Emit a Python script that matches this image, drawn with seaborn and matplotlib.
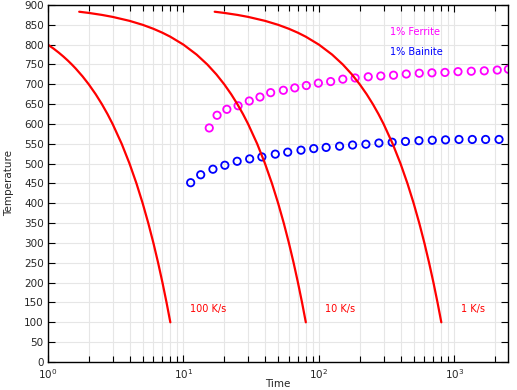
import numpy as np
import pandas as pd
import matplotlib
matplotlib.use("Agg")
import matplotlib.pyplot as plt
import seaborn as sns
from matplotlib.ticker import LogLocator, MultipleLocator, NullFormatter

# Cooling curves (time, temperature)
t_100 = [1, 1.1, 1.2, 1.3, 1.4, 1.5, 1.6, 1.8, 2, 2.25, 2.5, 2.75, 3, 3.5, 4, 4.5, 5, 5.5, 6, 6.5, 7, 7.5, 8]
T_100 = [800, 790, 780, 770, 760, 750, 740, 720, 700, 675, 650, 625, 600, 550, 500, 450, 400, 350, 300, 250, 200, 150, 100]

t_10 = [1.7, 2, 2.5, 3, 4, 5, 6, 7, 8, 10, 12.5, 15, 17.5, 20, 22.5, 25, 27.5, 30, 35, 40, 45, 50, 55, 60, 65, 70, 75, 80]
T_10 = [883, 880, 875, 870, 860, 850, 840, 830, 820, 800, 775, 750, 725, 700, 675, 650, 625, 600, 550, 500, 450, 400, 350, 300, 250, 200, 150, 100]

t_1 = [17, 20, 25, 30, 40, 50, 60, 70, 80, 100, 125, 150, 175, 200, 225, 250, 275, 300, 350, 400, 450, 500, 550, 600, 650, 700, 750, 800]
T_1 = [883, 880, 875, 870, 860, 850, 840, 830, 820, 800, 775, 750, 725, 700, 675, 650, 625, 600, 550, 500, 450, 400, 350, 300, 250, 200, 150, 100]

# 1% Ferrite start
t_ferrite = [15.5, 17.7, 20.9, 25.3, 30.6, 36.7, 44.0, 54.6, 66.3, 80.7, 99, 122, 150, 185, 231,
             286, 355, 441, 550, 682, 851, 1062, 1331, 1660, 2070, 2500]
T_ferrite = [590, 622, 637, 646, 658, 668, 679, 685, 691, 697, 703, 707, 713, 716, 719,
             721, 723, 726, 728, 729, 730, 732, 733, 734, 736, 738]

# 1% Bainite start
t_bainite = [11.3, 13.4, 16.5, 20.2, 24.9, 30.8, 37.9, 47.6, 58.8, 73.7, 91.5, 113, 142, 177, 222,
             277, 347, 435, 547, 686, 859, 1080, 1354, 1698, 2133]
T_bainite = [452, 472, 486, 496, 506, 512, 517, 524, 529, 534, 538, 541, 544, 547, 549,
             552, 554, 556, 558, 559, 560, 561, 561, 561, 561]

sns.set_style("ticks")
plt.rcParams['font.family'] = ['DejaVu Sans']

fig = plt.figure(figsize=(5.17, 3.90), dpi=100)
ax = fig.add_axes([0.0928, 0.0718, 0.8905, 0.9154])

for tt, TT in [(t_100, T_100), (t_10, T_10), (t_1, T_1)]:
    sns.lineplot(x=tt, y=TT, ax=ax, color="red", linewidth=1.6, sort=False, estimator=None)

sns.scatterplot(x=t_ferrite, y=T_ferrite, ax=ax, marker="o", s=28, facecolor="none",
                edgecolor="#ff00ff", linewidth=1.3)
sns.scatterplot(x=t_bainite, y=T_bainite, ax=ax, marker="o", s=28, facecolor="none",
                edgecolor="#0000ff", linewidth=1.3)

ax.set_xscale("log")
ax.set_xlim(1, 2500)
ax.set_ylim(0, 900)
ax.yaxis.set_major_locator(MultipleLocator(50))
ax.xaxis.set_major_locator(LogLocator(base=10, numticks=10))
ax.xaxis.set_minor_locator(LogLocator(base=10, subs=np.arange(2, 10), numticks=20))
ax.xaxis.set_minor_formatter(NullFormatter())

ax.grid(True, which="major", color="#e6e6e6", linewidth=0.8)
ax.grid(True, which="minor", axis="x", color="#e6e6e6", linewidth=0.8)
ax.set_axisbelow(True)

ax.tick_params(which="both", direction="in", top=True, right=True, labelsize=7.5,
               color="black")
ax.tick_params(axis="x", pad=4)
ax.tick_params(axis="y", pad=3)
ax.tick_params(which="major", length=5, width=0.8)
ax.tick_params(which="minor", length=4, width=0.8)
for s in ax.spines.values():
    s.set_color("black")
    s.set_linewidth(1.0)

ax.set_xlabel("Time", fontsize=7.5, labelpad=-2)
ax.set_ylabel("Temperature", fontsize=7.5, labelpad=7)

ax.text(335, 832, "1% Ferrite", color="#ff00ff", fontsize=7, va="center", ha="left")
ax.text(335, 781, "1% Bainite", color="#0000ff", fontsize=7, va="center", ha="left")
ax.text(11.1, 133, "100 K/s", color="red", fontsize=7, va="center", ha="left")
ax.text(111, 133, "10 K/s", color="red", fontsize=7, va="center", ha="left")
ax.text(1117, 133, "1 K/s", color="red", fontsize=7, va="center", ha="left")

fig.savefig("out.png", dpi=100)
